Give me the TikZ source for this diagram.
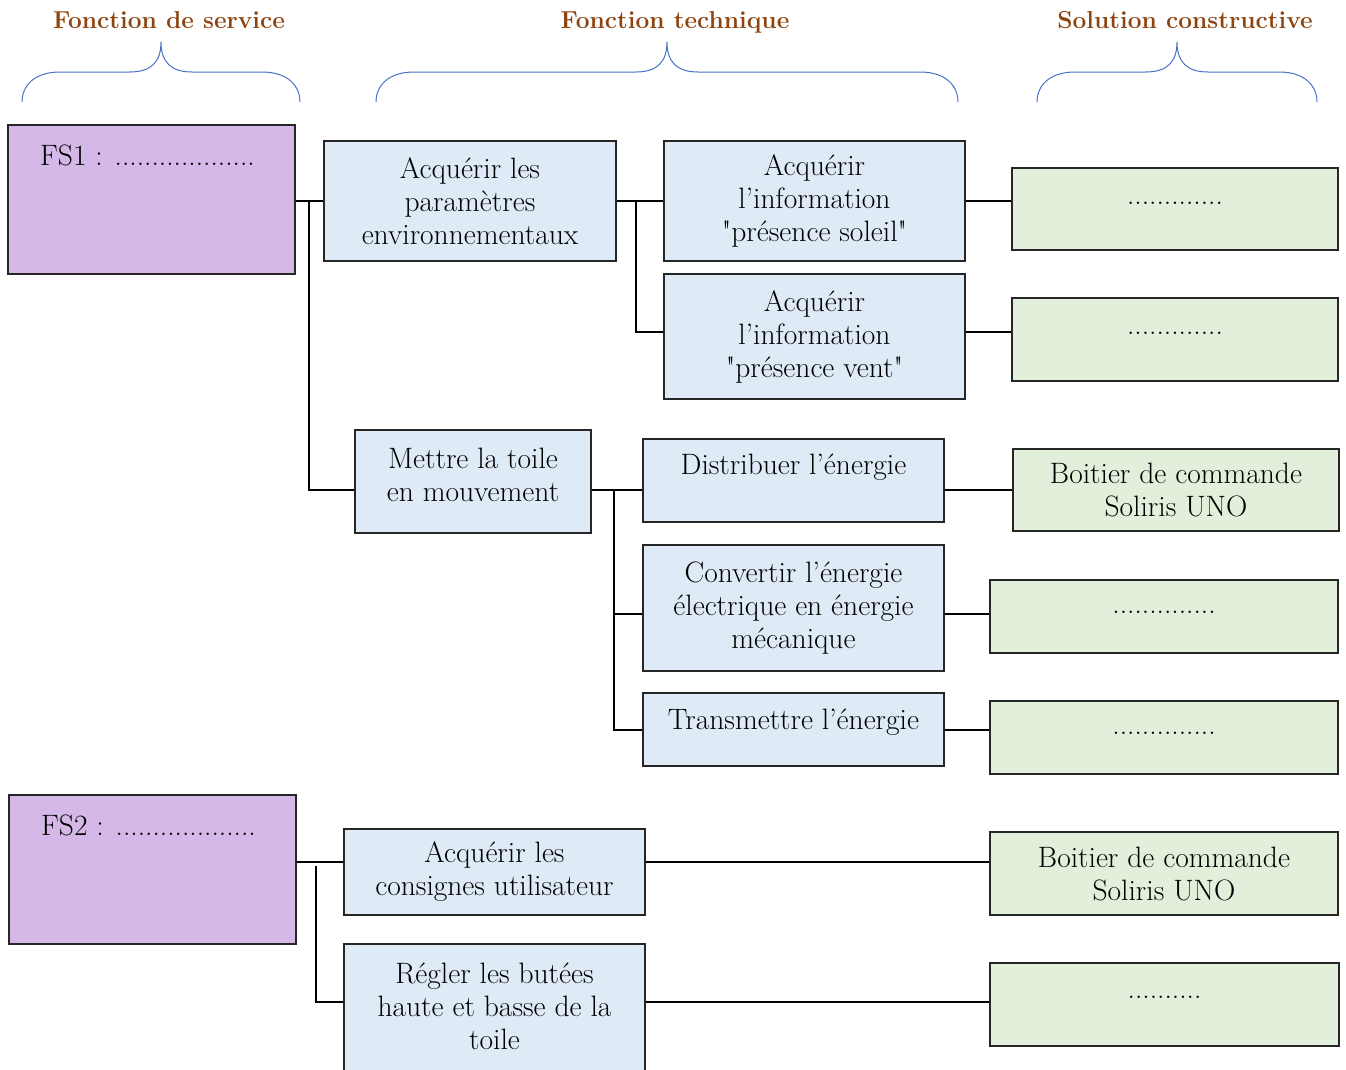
\documentclass[tikz,border=0pt]{standalone}
\usetikzlibrary{calc}
\definecolor{hdrc}{HTML}{8E4410}
\definecolor{brc}{HTML}{4472C4}
\definecolor{fsfill}{HTML}{D5B8E8}
\definecolor{ftfill}{HTML}{DEEAF6}
\definecolor{scfill}{HTML}{E2EFDA}
\definecolor{edgec}{HTML}{262626}
\newcommand\Brace[3]{%
  \draw[bracel] (#1,102) .. controls (#1,86) and (#1+12,72) .. (#1+38,72)
    -- (#2-31,72) .. controls (#2-10,72) and (#2,62) .. (#2,42)
    .. controls (#2,62) and (#2+10,72) .. (#2+31,72)
    -- (#3-38,72) .. controls (#3-12,72) and (#3,86) .. (#3,102);}
\begin{document}
\begin{tikzpicture}[x=1pt,y=-1pt,
  txt/.style={inner sep=0pt, align=center, font=\fontsize{29.5}{33}\selectfont},
  box/.style={draw=edgec, line width=1.6pt, inner sep=0pt, align=center, font=\fontsize{29.5}{33}\selectfont},
  fsbox/.style={box, fill=fsfill},
  ftbox/.style={box, fill=ftfill},
  scbox/.style={box, fill=scfill},
  hdr/.style={text=hdrc, anchor=base, font=\fontsize{24.5}{29}\selectfont\bfseries},
  bracel/.style={draw=brc, line width=1pt},
  link/.style={draw=black, line width=1.6pt},
]
\useasboundingbox (0,0) rectangle (1346,1069);
\clip (0,0) rectangle (1346,1069);

% headers
\node[hdr] (h1) at (169,28) {Fonction de service};
\node[hdr] (h2) at (675,28) {Fonction technique};
\node[hdr] (h3) at (1185,28) {Solution constructive};
\Brace{22}{161}{300}
\Brace{376}{667}{958}
\Brace{1037}{1177}{1317}

% row coordinates and trunks
\coordinate (t1) at (309,0);
\coordinate (t2) at (636,0);
\coordinate (t3) at (614,0);
\coordinate (t4) at (316,0);
\coordinate (y332) at (0,332);
\coordinate (y490) at (0,490);
\coordinate (y614) at (0,614);
\coordinate (y730) at (0,730);
\coordinate (y862) at (0,862);
\coordinate (y866) at (0,866);
\coordinate (y1002) at (0,1002);

% FS1 branch
\node[fsbox, minimum width=287pt, minimum height=149pt] (fs1) at (151.5,199.5) {};
\node[txt, anchor=west] (fs1t) at (40,155) {FS1 : ...................};
\node[ftbox, minimum width=292pt, minimum height=120pt] (a1) at (470,201)
  {Acquérir les\\paramètres\\environnementaux};
\node[ftbox, minimum width=301pt, minimum height=120pt] (b1) at (814.5,201)
  {Acquérir\\l’information\\\textquotedbl présence soleil\textquotedbl};
\node[ftbox, minimum width=301pt, minimum height=125pt] (b2) at (814.5,336.5)
  {Acquérir\\l’information\\\textquotedbl présence vent\textquotedbl};
\node[scbox, minimum width=326pt, minimum height=82pt] (s1) at (1175,209)
  {\raisebox{5pt}[0pt][0pt]{.............}};
\node[scbox, minimum width=326pt, minimum height=83pt] (s2) at (1175,339.5)
  {\raisebox{5pt}[0pt][0pt]{.............}};
\node[ftbox, minimum width=236pt, minimum height=103pt] (a2) at (473,481.5) {};
\node[txt] (a2t) at (473,475) {Mettre la toile\\en mouvement};
\node[ftbox, minimum width=301pt, minimum height=83pt] (c1) at (793.5,480.5) {};
\node[txt] (c1t) at (793.5,467) {Distribuer l’énergie};
\node[scbox, minimum width=326pt, minimum height=82pt] (s3) at (1176,490)
  {Boitier de commande\\Soliris UNO};
\node[ftbox, minimum width=301pt, minimum height=126pt] (c2) at (793.5,608)
  {Convertir l’énergie\\électrique en énergie\\mécanique};
\node[scbox, minimum width=348pt, minimum height=73pt] (s4) at (1164,616.5)
  {\raisebox{3pt}[0pt][0pt]{..............}};
\node[ftbox, minimum width=301pt, minimum height=73pt] (c3) at (793.5,729.5) {};
\node[txt] (c3t) at (793.5,722) {Transmettre l’énergie};
\node[scbox, minimum width=348pt, minimum height=73pt] (s5) at (1164,737.5)
  {\raisebox{3pt}[0pt][0pt]{..............}};

% FS2 branch
\node[fsbox, minimum width=287pt, minimum height=149pt] (fs2) at (152.5,869.5) {};
\node[txt, anchor=west] (fs2t) at (41,825) {FS2 : ...................};
\node[ftbox, minimum width=301pt, minimum height=86pt] (d1) at (494.5,872)
  {Acquérir les\\consignes utilisateur};
\node[scbox, minimum width=348pt, minimum height=83pt] (s6) at (1164,873.5)
  {Boitier de commande\\Soliris UNO};
\node[ftbox, minimum width=301pt, minimum height=140pt] (d2) at (494.5,1014) {};
\node[txt] (d2t) at (494.5,1006) {Régler les butées\\haute et basse de la\\toile};
\node[scbox, minimum width=349pt, minimum height=83pt] (s7) at (1164.5,1004.5)
  {\raisebox{6pt}[0pt][0pt]{..........}};

% connectors
\draw[link] (fs1.east |- a1) -- (a1.west);
\draw[link] (t1 |- a1) |- (a2.west |- y490);
\draw[link] (a1.east) -- (b1.west);
\draw[link] (t2 |- a1) |- (b2.west |- y332);
\draw[link] (b1.east) -- (s1.west |- b1.east);
\draw[link] (b2.east |- y332) -- (s2.west |- y332);
\draw[link] (a2.east |- y490) -- (c1.west |- y490);
\draw[link] (t3 |- y490) |- (c3.west |- y730);
\draw[link] (t3 |- y614) -- (c2.west |- y614);
\draw[link] (c1.east |- y490) -- (s3.west |- y490);
\draw[link] (c2.east |- y614) -- (s4.west |- y614);
\draw[link] (c3.east |- y730) -- (s5.west |- y730);
\draw[link] (fs2.east |- y862) -- (d1.west |- y862);
\draw[link] (t4 |- y866) |- (d2.west |- y1002);
\draw[link] (d1.east |- y862) -- (s6.west |- y862);
\draw[link] (d2.east |- y1002) -- (s7.west |- y1002);
\end{tikzpicture}
\end{document}
